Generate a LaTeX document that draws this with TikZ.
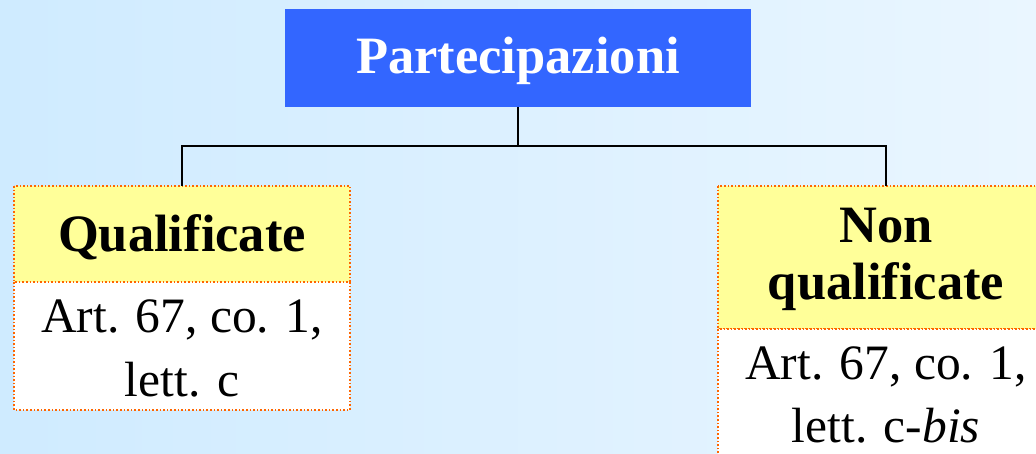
\documentclass[tikz,border=0pt]{standalone}
\usepackage{fontspec}
\setmainfont{Liberation Serif}
\definecolor{bgL}{HTML}{CFEBFF}
\definecolor{bgR}{HTML}{EAF6FF}
\definecolor{topblue}{HTML}{3366FF}
\definecolor{hdryellow}{HTML}{FFFF99}
\definecolor{dotorange}{HTML}{FF6600}
\begin{document}
\begin{tikzpicture}[x=1pt,y=-1pt,
  bodytxt/.style={font=\fontsize{49.5}{60}\selectfont, anchor=base, inner sep=0pt},
  boldtxt/.style={font=\fontsize{52.5}{60}\selectfont\bfseries, anchor=base, inner sep=0pt},
  headbox/.style={fill=hdryellow, draw=dotorange, line width=1.6pt, dotted},
  bodybox/.style={fill=white, draw=dotorange, line width=1.6pt, dotted},
  conn/.style={draw=black, line width=2pt}]
\useasboundingbox (0,0) rectangle (1036,454);
\shade[left color=bgL, right color=bgR] (0,0) rectangle (1036,454);
% top box
\fill[topblue] (285,9) rectangle (751,107);
\node[boldtxt, text=white] (top) at (518,74) {Partecipazioni};
\coordinate (topS) at (518,107);
% left box
\draw[headbox] (14,186) rectangle (350,282);
\draw[bodybox] (14,282) rectangle (350,410);
\node[boldtxt] (lh) at (182,252) {Qualificate};
\node[bodytxt] (lb1) at (182,333) {Art. 67, co. 1,};
\node[bodytxt] (lb2) at (182,396) {lett. c};
\coordinate (lN) at (182,186);
% right box
\draw[headbox] (718,186) rectangle (1054,329);
\draw[bodybox] (718,329) rectangle (1054,470);
\node[boldtxt] (rh1) at (886,243) {Non};
\node[boldtxt] (rh2) at (886,300) {qualificate};
\node[bodytxt] (rb1) at (886,379) {Art. 67, co. 1,};
\node[bodytxt] (rb2) at (886,442) {lett. c-\textit{bis}};
\coordinate (rN) at (886,186);
% connectors
\coordinate (mid) at (518,146);
\draw[conn] (topS) -- (mid);
\draw[conn] (lN) |- (mid) -| (rN);
\end{tikzpicture}
\end{document}
